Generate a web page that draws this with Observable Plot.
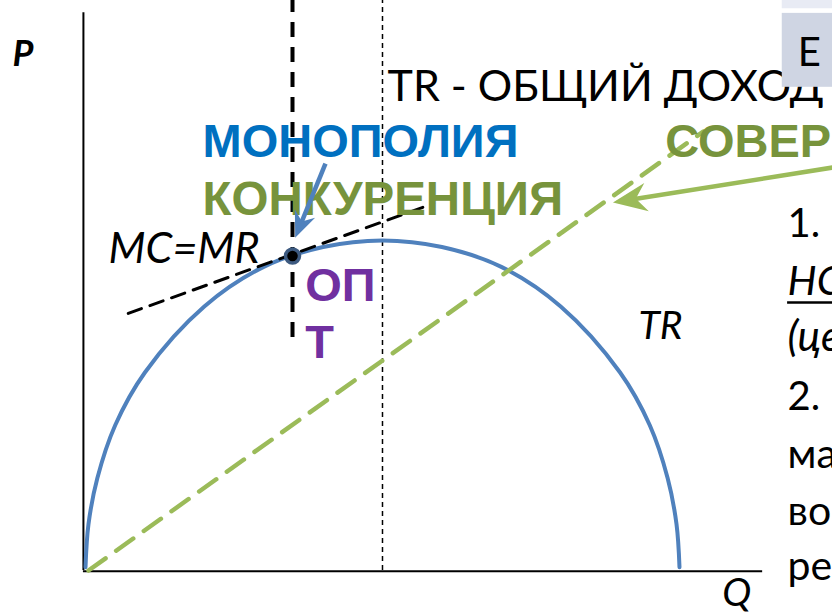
<!DOCTYPE html>
<html>
<head>
<meta charset="utf-8">
<script src="https://cdn.jsdelivr.net/npm/d3@7"></script>
<script src="https://cdn.jsdelivr.net/npm/@observablehq/plot@0.6"></script>
<style>
  html, body { margin: 0; padding: 0; background: #fff; overflow: hidden; }
  #chart { width: 832px; height: 612px; overflow: hidden; }
</style>
</head>
<body>
<div id="chart"></div>
<script>
// ---- data (Q = quantity, TR = total revenue, schematic units) ----
const trQ  = [0, 0.5, 2, 5, 10, 20, 30, 40, 50, 60, 70, 80, 90, 95, 98, 99.5, 100];
const trV  = [1, 14, 28, 44, 60, 80, 92, 98, 100, 98, 92, 80, 60, 44, 28, 14, 1];
const pcQ  = [0.5, 104];          // perfect competition TR line (dashed green)
const pcV  = [0, 133];
const tanQ = [7.2, 58.6];         // tangent MC=MR (dashed black)
const tanV = [77.9, 111.2];
const optQ = 34.85;               // optimum of monopolistic competition
const optTR = 95.3;
const maxQ = 50;                  // TR maximum

const trData  = trQ.map((q, i) => ({q, v: trV[i]}));
const pcData  = pcQ.map((q, i) => ({q, v: pcV[i]}));
const tanData = tanQ.map((q, i) => ({q, v: tanV[i]}));

// scales
const xDomain = [0, 125.76], xRange = [85, 832];
const yDomain = [0, 172.7],  yRange = [570, 0];
const kx = (xRange[1] - xRange[0]) / (xDomain[1] - xDomain[0]);
const ky = (yRange[0] - yRange[1]) / (yDomain[1] - yDomain[0]);

const calibri = "Lato, 'Open Sans', sans-serif";
const arial = "'Liberation Sans', Arial, sans-serif";

const labels = [
  {t: "P", q: -12.3, v: 153, size: 36, w: "bold", s: "italic", c: "#000", f: calibri},
  {t: "TR - ОБЩИЙ ДОХОД", q: 50.84, v: 142.4, size: 43, w: "normal", s: "normal", c: "#000", f: calibri},
  {t: "МОНОПОЛИЯ", q: 19.7, v: 125.2, size: 47, w: "bold", s: "normal", c: "#0070C0", f: arial},
  {t: "КОНКУРЕНЦИЯ", q: 19.7, v: 107.6, size: 47.5, w: "bold", s: "normal", c: "#77933C", f: arial},
  {t: "СОВЕРШЕННАЯ", q: 97.6, v: 125.2, size: 47, w: "bold", s: "normal", c: "#77933C", f: arial},
  {t: "MC=MR", q: 3.87, v: 93.3, size: 43, w: "normal", s: "italic", c: "#000", f: calibri},
  {t: "ОП", q: 37.0, v: 81.8, size: 47, w: "bold", s: "normal", c: "#7030A0", f: arial},
  {t: "Т", q: 37.0, v: 64.5, size: 47, w: "bold", s: "normal", c: "#7030A0", f: arial},
  {t: "TR", q: 93.1, v: 70, size: 39, w: "normal", s: "italic", c: "#000", f: calibri},
  {t: "Q", q: 107.2, v: -10.9, size: 39, w: "normal", s: "italic", c: "#000", f: calibri},
  {t: "1.", q: 118.2, v: 100.9, size: 40, w: "normal", s: "normal", c: "#000", f: calibri},
  {t: "НС", q: 118.2, v: 83.6, size: 41, w: "normal", s: "italic", c: "#000", f: calibri},
  {t: "(це", q: 118.2, v: 66.4, size: 42, w: "normal", s: "italic", c: "#000", f: calibri},
  {t: "2.", q: 118.2, v: 48.5, size: 40, w: "normal", s: "normal", c: "#000", f: calibri},
  {t: "ма", q: 118.2, v: 31.2, size: 41, w: "normal", s: "normal", c: "#000", f: calibri},
  {t: "во", q: 118.2, v: 13.9, size: 41, w: "normal", s: "normal", c: "#000", f: calibri},
  {t: "ре", q: 118.2, v: -3.0, size: 41, w: "normal", s: "normal", c: "#000", f: calibri}
];

const textMarks = labels.map(d => Plot.text([d], {
  x: "q", y: "v", text: "t", textAnchor: "start", lineAnchor: "bottom",
  fontSize: d.size, fontWeight: d.w, fontStyle: d.s, fill: d.c, fontFamily: d.f
}));

// arrows (tail -> tip), in data units
const arrows = [
  {x1: 40.4, y1: 123.3, x2: 35.3, y2: 100.8, color: "#4F81BD", head: 26},
  {x1: 125.8, y1: 122.1, x2: 88.8, y2: 111.5, color: "#9BBB59", head: 34}
];
const headShape = {
  draw(context, l) {
    const w = l * 0.42;
    context.moveTo(0, -l);
    context.lineTo(-w, 0);
    context.lineTo(0, -l * 0.32);
    context.lineTo(w, 0);
    context.closePath();
  }
};
const arrowMarks = arrows.flatMap(a => {
  const dx = (a.x2 - a.x1) * kx, dy = -(a.y2 - a.y1) * ky; // screen pixels
  const len = Math.hypot(dx, dy);
  const rot = Math.atan2(dx, -dy) * 180 / Math.PI;
  const back = a.head * 0.6;
  const sx = a.x2 - (dx / len) * back / kx;
  const sy = a.y2 + (dy / len) * back / ky;
  return [
    Plot.link([a], {x1: "x1", y1: "y1", x2: () => sx, y2: () => sy, stroke: a.color, strokeWidth: 4.5}),
    Plot.vector([a], {x: "x2", y: "y2", length: a.head, rotate: rot, anchor: "end", shape: headShape, fill: a.color, stroke: "none"})
  ];
});

const chart = Plot.plot({
  width: 832, height: 612, margin: 0,
  x: {domain: xDomain, range: xRange, axis: null},
  y: {domain: yDomain, range: yRange, axis: null},
  style: {background: "#fff"},
  marks: [
    // axes
    Plot.ruleX([-0.35], {y1: 0, y2: 169, stroke: "#000", strokeWidth: 2}),
    Plot.ruleY([-0.2], {x1: -0.35, x2: 114, stroke: "#000", strokeWidth: 2}),
    // dotted vertical at TR max
    Plot.ruleX([maxQ], {y1: 0, y2: 172.7, stroke: "#000", strokeWidth: 1.5, strokeDasharray: "5,4"}),
    // thick dashed vertical at optimum
    Plot.ruleX([optQ], {y1: 70.6, y2: 172.7, stroke: "#000", strokeWidth: 4, strokeDasharray: "15,10"}),
    // TR curve
    Plot.line(trData, {x: "q", y: "v", curve: "catmull-rom", stroke: "#4F81BD", strokeWidth: 4}),
    // perfect competition line
    Plot.line(pcData, {x: "q", y: "v", stroke: "#9BBB59", strokeWidth: 4.5, strokeDasharray: "21,13"}),
    // tangent
    Plot.line(tanData, {x: "q", y: "v", stroke: "#000", strokeWidth: 3, strokeDasharray: "14,9"}),
    ...textMarks,
    // E box (drawn over the title text)
    Plot.rect([{x1: 117.3, x2: 126, y1: 170.2, y2: 172.7}], {x1: "x1", x2: "x2", y1: "y1", y2: "y2", fill: "#E8EBF4"}),
    Plot.rect([{x1: 117.3, x2: 126, y1: 146.4, y2: 168.8}], {x1: "x1", x2: "x2", y1: "y1", y2: "y2", fill: "#CFD5E3"}),
    Plot.text([{t: "E"}], {x: () => 119.9, y: () => 153, text: "t", textAnchor: "start", lineAnchor: "bottom", fontSize: 40, fontFamily: calibri, fill: "#000"}),
    // underline under НС
    Plot.ruleY([81.2], {x1: 118.2, x2: 126, stroke: "#000", strokeWidth: 2.5}),
    // arrows
    ...arrowMarks,
    // optimum point
    Plot.dot([{q: optQ, v: optTR}], {x: "q", y: "v", r: 7, fill: "#000", stroke: "#3D5A80", strokeWidth: 3.5})
  ]
});
document.getElementById("chart").appendChild(chart);
</script>
</body>
</html>
